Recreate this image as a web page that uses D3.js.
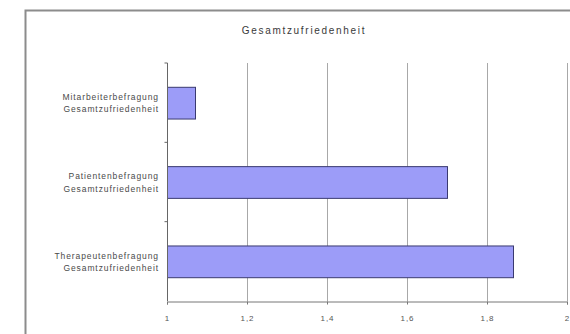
<!DOCTYPE html>
<html>
<head>
<meta charset="utf-8">
<script src="https://cdn.jsdelivr.net/npm/d3@7"></script>
<style>
  html, body { margin: 0; padding: 0; background: #fff; }
  svg { display: block; }
  text { font-family: "Liberation Sans", Arial, sans-serif; }
</style>
</head>
<body>
<svg id="chart" width="570" height="334"></svg>
<script>
const chartTitle = "Gesamtzufriedenheit";
const categories = [
  ["Mitarbeiterbefragung", "Gesamtzufriedenheit"],
  ["Patientenbefragung", "Gesamtzufriedenheit"],
  ["Therapeutenbefragung", "Gesamtzufriedenheit"]
];
const values = [1.07, 1.70, 1.865];
const xTicks = [1, 1.2, 1.4, 1.6, 1.8, 2];

const svg = d3.select("#chart");
const W = 570, H = 334;
const plot = { left: 167, right: 567, top: 63, bottom: 301 };

// outer chart frame
svg.append("rect")
  .attr("x", 25.5).attr("y", 10.5)
  .attr("width", W + 10).attr("height", H + 10)
  .attr("fill", "#fff").attr("stroke", "#8c8c8c").attr("stroke-width", 2);

svg.append("text")
  .attr("x", 304).attr("y", 34)
  .attr("text-anchor", "middle")
  .attr("font-size", 10).attr("letter-spacing", 1.7)
  .attr("fill", "#3a3a3a")
  .text(chartTitle);

const x = d3.scaleLinear().domain([1, 2]).range([plot.left, plot.right]);
const y = d3.scaleBand().domain(d3.range(categories.length))
  .range([plot.top, plot.bottom]).paddingInner(0.6).paddingOuter(0.3);
const yb = d3.scaleBand().domain(d3.range(categories.length))
  .range([plot.top, plot.bottom]);

// vertical gridlines
svg.append("g").selectAll("line").data(xTicks.slice(1)).join("line")
  .attr("x1", d => Math.round(x(d)) + 0.5).attr("x2", d => Math.round(x(d)) + 0.5)
  .attr("y1", plot.top).attr("y2", plot.bottom)
  .attr("stroke", "#a8a8a8").attr("stroke-width", 1);

// bars
svg.append("g").selectAll("rect").data(values).join("rect")
  .attr("x", x(1) + 0.5)
  .attr("y", (d, i) => y(i) + 0.5)
  .attr("width", d => x(d) - x(1))
  .attr("height", y.bandwidth())
  .attr("fill", "#9c9cf8")
  .attr("stroke", "#3a3a70").attr("stroke-width", 1);

// x axis
const xAxis = svg.append("g")
  .attr("transform", `translate(0,${plot.bottom + 0.5})`)
  .call(d3.axisBottom(x).tickValues(xTicks).tickSize(3).tickPadding(11)
    .tickFormat(d => d3.format("")(d).replace(".", ",")));
xAxis.select(".domain").attr("stroke", "#777");
xAxis.selectAll(".tick line").attr("stroke", "#777");
xAxis.selectAll("text").attr("font-size", 8).attr("letter-spacing", 1)
  .attr("fill", "#555")
  .attr("font-family", "Liberation Sans, Arial, sans-serif");

// y axis with category boundaries as ticks
const yAxisG = svg.append("g").attr("transform", `translate(${plot.left + 0.5},0)`);
yAxisG.append("line")
  .attr("y1", plot.top).attr("y2", plot.bottom)
  .attr("stroke", "#666");
yAxisG.selectAll("line.tk").data(d3.range(categories.length)).join("line")
  .attr("class", "tk")
  .attr("x1", -3).attr("x2", 0)
  .attr("y1", d => yb(d)).attr("y2", d => yb(d))
  .attr("stroke", "#666");

// category labels
const labels = svg.append("g").selectAll("text").data(categories).join("text")
  .attr("text-anchor", "end")
  .attr("font-size", 8.5).attr("letter-spacing", 0.9)
  .attr("fill", "#4a4a4a")
  .attr("transform", (d, i) => `translate(159,${y(i) + y.bandwidth() / 2})`);
labels.selectAll("tspan").data(d => d).join("tspan")
  .attr("x", 0)
  .attr("dy", (d, j) => j === 0 ? "-0.3em" : "1.45em")
  .text(d => d);
</script>
</body>
</html>
